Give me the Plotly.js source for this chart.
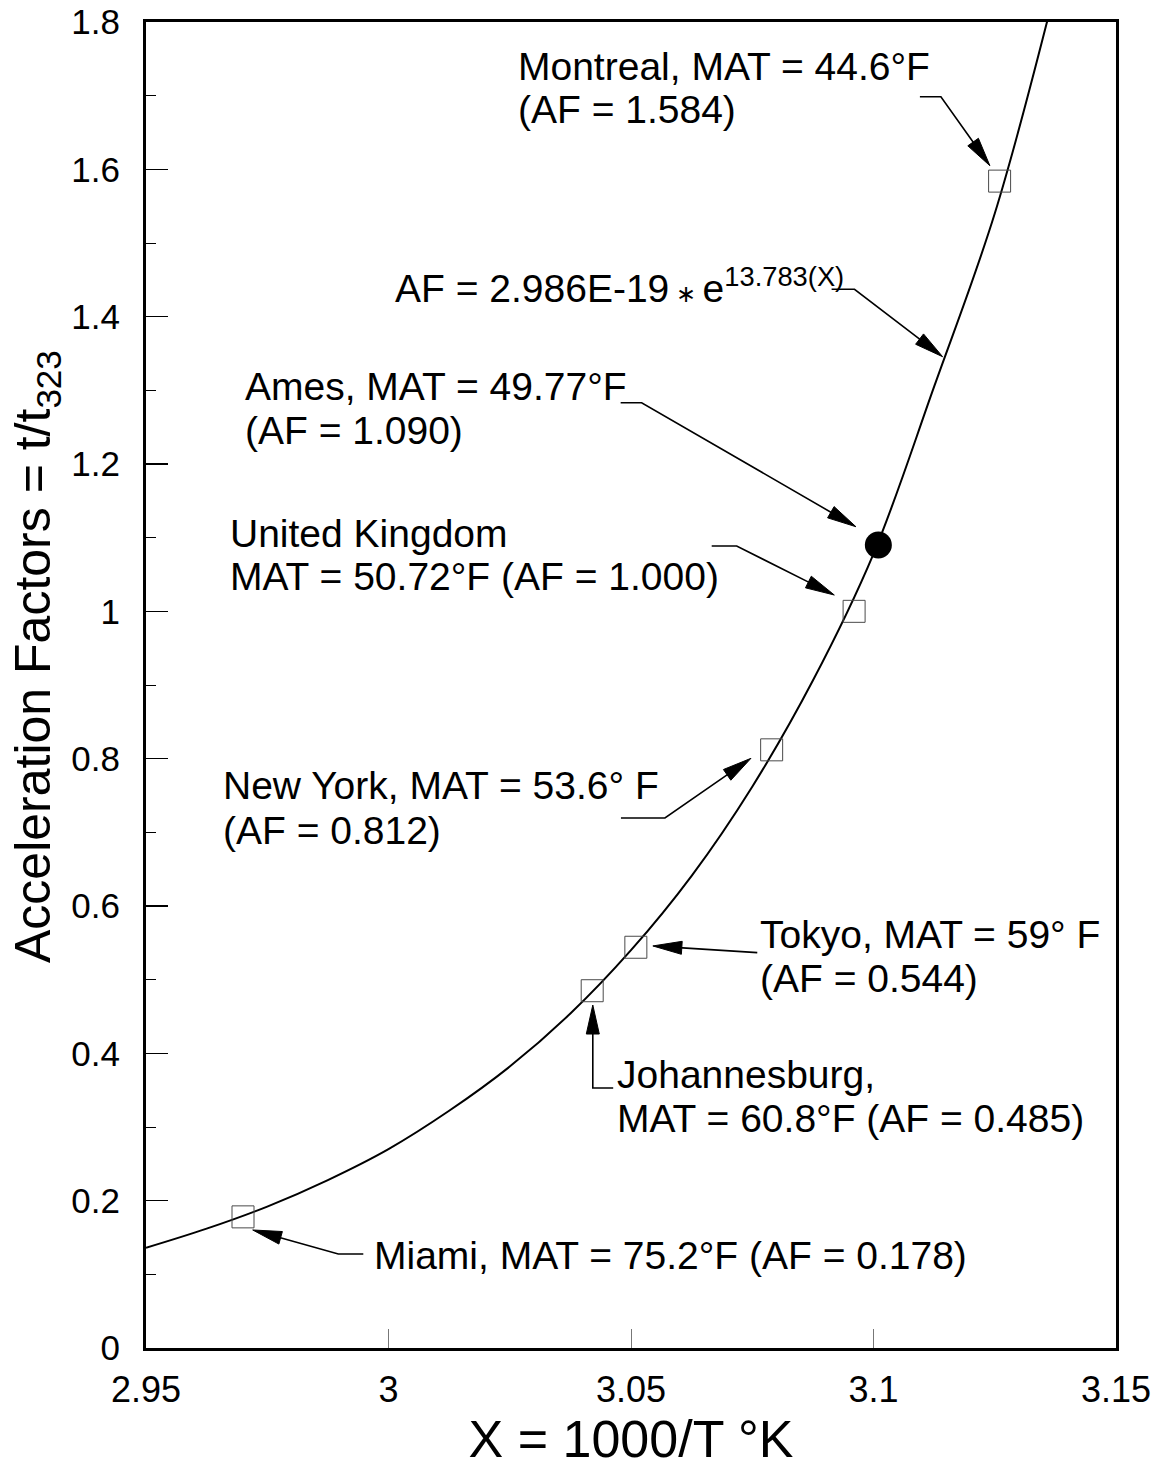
<!DOCTYPE html>
<html>
<head>
<meta charset="utf-8">
<script src="https://cdn.plot.ly/plotly-3.0.1.min.js"></script>
<style>
  html, body { margin: 0; padding: 0; background: #ffffff; }
  #chart { width: 1169px; height: 1470px; }
</style>
</head>
<body>
<div id="chart"></div>
<script>
// Fitted curve AF = 2.986E-19 * e^(13.783 X), sampled along X = 1000/T
const curveX  = [2.95, 2.9625, 2.975, 2.9875, 3.0, 3.0125, 3.025, 3.0375, 3.05, 3.0625, 3.075, 3.0875, 3.1, 3.1125, 3.125, 3.1375];
const curveAF = [0.136, 0.162, 0.192, 0.228, 0.270, 0.322, 0.382, 0.454, 0.540, 0.641, 0.762, 0.906, 1.078, 1.305, 1.540, 1.845];

// Locations: mean annual temperature (deg F), X position and acceleration factor
const cities = ["Miami", "Johannesburg", "Tokyo", "New York", "United Kingdom", "Ames", "Montreal"];
const matF   = [75.2, 60.8, 59, 53.6, 50.72, 49.77, 44.6];
const cityX  = [2.970, 3.042, 3.051, 3.079, 3.096, 3.101, 3.126];
const cityAF = [0.178, 0.485, 0.544, 0.812, 1.000, 1.090, 1.584];

// Axis ticks
const xTickVals = [2.95, 3.0, 3.05, 3.1, 3.15];
const xTickText = ["2.95", "3", "3.05", "3.1", "3.15"];
const yTickVals = [0, 0.2, 0.4, 0.6, 0.8, 1.0, 1.2, 1.4, 1.6, 1.8];
const yTickText = ["0", "0.2", "0.4", "0.6", "0.8", "1", "1.2", "1.4", "1.6", "1.8"];

const FONT = '"Liberation Sans", Arial, Helvetica, sans-serif';
const LABEL_SIZE = 39;

// Plot box in page pixels
const box = { l: 146, r: 1116, t: 22, b: 1348 };
const W = 1169, H = 1470;
const px2paperX = p => (p - box.l) / (box.r - box.l);
const px2paperY = p => (box.b - p) / (box.b - box.t);

const at = name => cities.indexOf(name);
const afText = name => "(AF = " + cityAF[at(name)].toFixed(3) + ")";
const mat = name => String(matF[at(name)]);

// Text lines: [text, left edge px, vertical centre px]
const labelLines = [
  ["Montreal, MAT = " + mat("Montreal") + "°F", 516, 66],
  [afText("Montreal"), 516, 110],
  ["AF = 2.986E-19<span style=\"font-size:24px\"> ∗ </span>e<sup>13.783(X)</sup>", 393, 286],
  ["Ames, MAT = " + mat("Ames") + "°F", 243, 386],
  [afText("Ames"), 243, 430],
  ["United Kingdom", 228, 533],
  ["MAT = " + mat("United Kingdom") + "°F " + afText("United Kingdom"), 228, 577],
  ["New York, MAT = " + mat("New York") + "° F", 221, 786],
  [afText("New York"), 221, 830],
  ["Tokyo, MAT = " + mat("Tokyo") + "° F", 758, 934],
  [afText("Tokyo"), 758, 978],
  ["Johannesburg,", 615, 1074],
  ["MAT = " + mat("Johannesburg") + "°F " + afText("Johannesburg"), 615, 1118],
  ["Miami, MAT = " + mat("Miami") + "°F " + afText("Miami"), 372, 1255]
];

// Leader lines: pixel offsets (y downwards) from the anchor; last point is the arrow tip
const leaders = [
  { city: "Miami",          pts: [[120.3, 37.1], [95.3, 37.1], [9.7, 13.1]] },
  { city: "Johannesburg",   pts: [[21, 97.3], [0.6, 97.3], [0.6, 14.3]] },
  { city: "Tokyo",          pts: [[121.4, 5.4], [17, -1.3]] },
  { city: "New York",       pts: [[-150.7, 68.2], [-106.7, 68.2], [-20.7, 8.5]] },
  { city: "United Kingdom", pts: [[-142.4, -65.3], [-117.4, -65.3], [-19.8, -16.3]] },
  { city: "Ames",           pts: [[-257.7, -142.3], [-236.7, -142.3], [-22.4, -18.3]] },
  { city: "Montreal",       pts: [[-79.7, -84.4], [-58.7, -84.4], [-9.7, -15.4]] },
  { paper: [px2paperX(942.6), px2paperY(356.7)], pts: [[-111, -67.4], [-88.1, -67.4], [0, 0]] }
];

function leaderShapes(ld) {
  const anchor = ld.city !== undefined
    ? { xref: "x", yref: "y", x: cityX[at(ld.city)], y: cityAF[at(ld.city)] }
    : { xref: "paper", yref: "paper", x: ld.paper[0], y: ld.paper[1] };
  const pts = ld.pts, n = pts.length;
  const tip = pts[n - 1], prev = pts[n - 2];
  const dx = tip[0] - prev[0], dy = tip[1] - prev[1];
  const len = Math.hypot(dx, dy);
  const ux = dx / len, uy = dy / len;
  const L = 29, hw = 6.5;
  const base = [tip[0] - ux * L, tip[1] - uy * L];
  const lineEnd = [base[0] + ux * 3, base[1] + uy * 3];
  const f = p => p[0].toFixed(2) + "," + (-p[1]).toFixed(2);
  const linePath = "M" + pts.slice(0, n - 1).concat([lineEnd]).map(f).join("L");
  const head = [tip, [base[0] - uy * hw, base[1] + ux * hw], [base[0] + uy * hw, base[1] - ux * hw]];
  const headPath = "M" + head.map(f).join("L") + "Z";
  const common = {
    type: "path", xref: anchor.xref, yref: anchor.yref,
    xsizemode: "pixel", ysizemode: "pixel", xanchor: anchor.x, yanchor: anchor.y
  };
  return [
    Object.assign({}, common, { path: linePath, line: { color: "#000", width: 1.6 } }),
    Object.assign({}, common, { path: headPath, fillcolor: "#000", line: { color: "#000", width: 1 } })
  ];
}

const squareIdx = cities.map((c, i) => i).filter(i => cities[i] !== "Ames");
const amesIdx = at("Ames");

const traces = [
  {
    x: curveX, y: curveAF, type: "scatter", mode: "lines",
    line: { color: "#000", width: 2, shape: "spline", smoothing: 1 },
    hoverinfo: "skip", showlegend: false
  },
  {
    x: squareIdx.map(i => cityX[i]), y: squareIdx.map(i => cityAF[i]),
    text: squareIdx.map(i => cities[i]),
    type: "scatter", mode: "markers",
    marker: { symbol: "square-open", size: 22, color: "#4a4a4a", line: { width: 1, color: "#4a4a4a" } },
    showlegend: false
  },
  {
    x: [cityX[amesIdx]], y: [cityAF[amesIdx]], text: [cities[amesIdx]],
    type: "scatter", mode: "markers",
    marker: { symbol: "circle", size: 27, color: "#000" },
    showlegend: false
  }
];

const annotations = labelLines.map(([text, x, y]) => ({
  xref: "paper", yref: "paper", x: px2paperX(x), y: px2paperY(y),
  xanchor: "left", yanchor: "middle", showarrow: false, text: text,
  font: { family: FONT, size: LABEL_SIZE, color: "#000" }
}));

// Vertical axis title
annotations.push({
  xref: "paper", yref: "paper", x: px2paperX(36), y: px2paperY(657),
  xanchor: "center", yanchor: "middle", showarrow: false, textangle: -90,
  text: "Acceleration Factors = t/t<sub>323</sub>",
  font: { family: FONT, size: 50, color: "#000" }
});

const layout = {
  width: W, height: H,
  margin: { l: box.l, r: W - box.r, t: box.t, b: H - box.b, pad: 0 },
  paper_bgcolor: "#fff", plot_bgcolor: "#fff",
  showlegend: false,
  font: { family: FONT, color: "#000" },
  xaxis: {
    range: [2.95, 3.15], tickmode: "array", tickvals: xTickVals, ticktext: xTickText,
    ticks: "inside", ticklen: 19, tickwidth: 1, tickcolor: "#777",
    showline: true, linewidth: 3, linecolor: "#000", mirror: true,
    showgrid: false, zeroline: false, ticklabelstandoff: 8,
    tickfont: { family: FONT, size: 36, color: "#000" },
    title: { text: "X = 1000/T °K", font: { family: FONT, size: 52, color: "#000" }, standoff: 10 }
  },
  yaxis: {
    range: [0, 1.8], tickmode: "array", tickvals: yTickVals, ticktext: yTickText,
    ticks: "inside", ticklen: 22, tickwidth: 1.2, tickcolor: "#000",
    minor: { dtick: 0.1, ticks: "inside", ticklen: 10, tickwidth: 1, tickcolor: "#000" },
    showline: true, linewidth: 3, linecolor: "#000", mirror: true,
    showgrid: false, zeroline: false, ticklabelstandoff: 16,
    tickfont: { family: FONT, size: 35, color: "#000" }
  },
  annotations: annotations,
  shapes: leaders.flatMap(leaderShapes)
};

Plotly.newPlot("chart", traces, layout, { staticPlot: true, displayModeBar: false });
</script>
</body>
</html>
